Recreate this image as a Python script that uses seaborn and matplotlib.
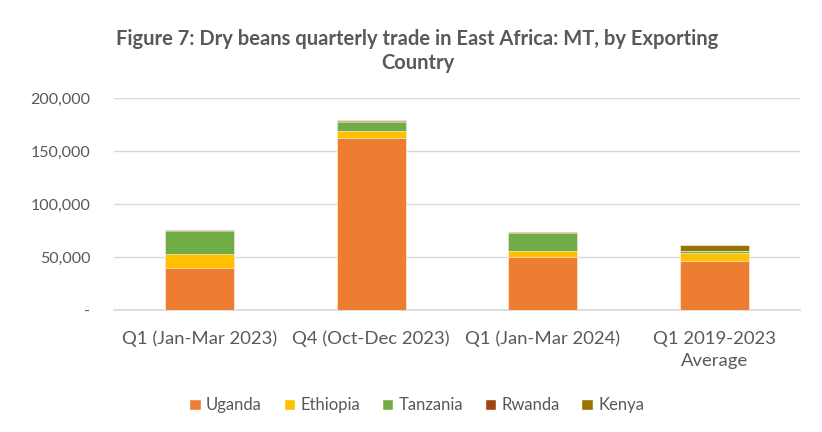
import matplotlib
matplotlib.use("Agg")
import matplotlib.pyplot as plt
import seaborn as sns
import pandas as pd
import numpy as np
from matplotlib.patches import Patch

categories = ["Q1 (Jan-Mar 2023)", "Q4 (Oct-Dec 2023)", "Q1 (Jan-Mar 2024)", "Q1 2019-2023\nAverage"]
countries = ["Uganda", "Ethiopia", "Tanzania", "Rwanda", "Kenya"]
uganda = [40000, 162000, 50000, 46500]
ethiopia = [12500, 7000, 5500, 7500]
tanzania = [22000, 8500, 17500, 1500]
rwanda = [800, 800, 300, 400]
kenya = [200, 500, 300, 5000]
colors = ["#ED7D31", "#FFC000", "#70AD47", "#9E480E", "#997300"]
yticks = [0, 50000, 100000, 150000, 200000]
ytick_labels = ["-", "50,000", "100,000", "150,000", "200,000"]

sns.set_theme(style="white")
plt.rcParams['font.family'] = ['Lato', 'DejaVu Sans']

series = [uganda, ethiopia, tanzania, rwanda, kenya]
cum = np.cumsum(np.array(series), axis=0)
df = pd.DataFrame({"category": categories})
for name, c in zip(countries, cum):
    df[name] = c

fig = plt.figure(figsize=(8.22, 4.32), dpi=100)
ax = fig.add_axes([114 / 822, 1 - 310 / 432, 686 / 822, 212 / 432])

for i in range(len(countries) - 1, -1, -1):
    sns.barplot(data=df, x="category", y=countries[i], color=colors[i], ax=ax,
                width=0.40, saturation=1, edgecolor="white", linewidth=0.4, zorder=3)

ax.set_ylim(0, 200000)
ax.set_xlim(-0.5, 3.5)
ax.set_yticks(yticks)
ax.set_yticklabels(ytick_labels)
ax.set_xlabel("")
ax.set_ylabel("")
ax.grid(axis="y", color="#D9D9D9", linewidth=1, zorder=0)
ax.set_axisbelow(True)
for s in ["top", "right", "left"]:
    ax.spines[s].set_visible(False)
ax.spines["bottom"].set_color("#D9D9D9")
ax.tick_params(axis="y", colors="#595959", labelsize=11.5, length=0, pad=17)
ax.tick_params(axis="x", colors="#595959", labelsize=13.3, length=0, pad=15)
for lbl in ax.get_xticklabels():
    lbl.set_linespacing(1.45)

fig.text(0.508, 0.882, "Figure 7: Dry beans quarterly trade in East Africa: MT, by Exporting\nCountry",
         ha="center", va="center", fontsize=14.5, fontweight="bold", color="#595959", linespacing=1.2)

handles = [Patch(facecolor=c, label=n) for c, n in zip(colors, countries)]
fig.legend(handles=handles, loc="center", bbox_to_anchor=(0.507, 0.062), ncol=5, frameon=False,
           fontsize=12, labelcolor="#595959", handlelength=0.7, handleheight=0.7,
           handletextpad=0.3, columnspacing=1.3)

fig.savefig("out.png", dpi=100)
